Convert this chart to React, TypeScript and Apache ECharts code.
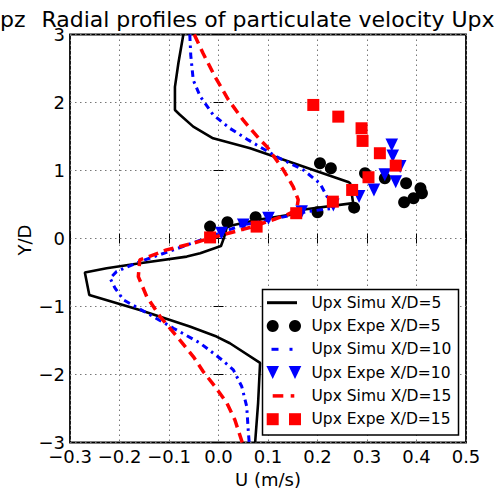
import React, { useEffect, useRef } from "react";
import * as echarts from "echarts";

// ---- data (U in m/s, Y/D) ----
const simuXD5: [number, number][] = [
  [-0.071, 3.0], [-0.081, 2.58], [-0.088, 2.23], [-0.088, 1.89], [-0.078, 1.82], [-0.051, 1.645],
  [-0.011, 1.474], [0.064, 1.327], [0.262, 0.832], [0.266, 0.813], [0.272, 0.52], [0.165, 0.42],
  [0.144, 0.347], [0.077, 0.273], [0.017, 0.175], [0.011, 0.01], [0.005, -0.11], [-0.037, -0.216],
  [-0.064, -0.266], [-0.159, -0.363], [-0.226, -0.437], [-0.27, -0.5], [-0.261, -0.83], [-0.159, -1.05],
  [-0.058, -1.295], [-0.004, -1.442], [0.023, -1.54], [0.084, -1.83], [0.08, -2.42], [0.074, -3.0],
];
const simuXD10: [number, number][] = [
  [-0.058, 3.0], [-0.056, 2.69], [-0.051, 2.33], [-0.037, 2.09], [-0.011, 1.82], [0.023, 1.62],
  [0.06, 1.45], [0.118, 1.2], [0.171, 1.01], [0.205, 0.81], [0.219, 0.62], [0.232, 0.445],
  [0.178, 0.395], [0.104, 0.273], [0.05, 0.2], [0.003, 0.082], [-0.091, -0.168], [-0.159, -0.34],
  [-0.206, -0.487], [-0.219, -0.584], [-0.209, -0.731], [-0.192, -0.903], [-0.138, -1.123],
  [-0.091, -1.319], [-0.037, -1.539], [0.007, -1.785], [0.03, -1.931], [0.047, -2.177],
  [0.057, -2.471], [0.06, -2.813], [0.062, -3.0],
];
const simuXD15: [number, number][] = [
  [-0.049, 3.0], [-0.031, 2.72], [-0.007, 2.38], [0.02, 2.04], [0.05, 1.74], [0.084, 1.45],
  [0.098, 1.35], [0.131, 1.01], [0.151, 0.76], [0.161, 0.57], [0.158, 0.42], [0.138, 0.347],
  [0.07, 0.175], [-0.017, 0.004], [-0.051, -0.069], [-0.105, -0.168], [-0.159, -0.315],
  [-0.162, -0.56], [-0.145, -0.854], [-0.118, -1.148], [-0.084, -1.442], [-0.051, -1.736],
  [-0.031, -1.956], [-0.007, -2.177], [0.017, -2.421], [0.033, -2.666], [0.048, -3.0],
];
const expeXD5: [number, number][] = [
  [0.205, 1.107], [0.227, 1.033], [0.296, 0.96], [0.336, 0.886], [0.379, 0.813], [0.408, 0.739],
  [0.411, 0.666], [0.394, 0.592], [0.375, 0.534], [0.274, 0.454], [0.2, 0.387], [0.075, 0.313],
  [0.018, 0.24], [-0.017, 0.175],
];
const expeXD10: [number, number][] = [
  [0.35, 1.376], [0.352, 1.214], [0.367, 1.057], [0.336, 0.936], [0.358, 0.836], [0.314, 0.714],
  [0.284, 0.616], [0.232, 0.494], [0.168, 0.395], [0.101, 0.298], [0.05, 0.2], [0.006, 0.078],
];
const expeXD15: [number, number][] = [
  [0.1915, 1.964], [0.242, 1.792], [0.289, 1.621], [0.291, 1.435], [0.326, 1.254], [0.358, 1.072],
  [0.303, 0.901], [0.27, 0.714], [0.231, 0.542], [0.157, 0.372], [0.077, 0.175], [-0.017, 0.016],
];

const legendLabels = [
  "Upx Simu X/D=5",
  "Upx Expe X/D=5",
  "Upx Simu X/D=10",
  "Upx Expe X/D=10",
  "Upx Simu X/D=15",
  "Upx Expe X/D=15",
];
const xRange = { min: -0.3, max: 0.5, step: 0.1 };
const yRange = { min: -3, max: 3, step: 1 };
const titleText = "Radial profiles of particulate velocity Upx";
const neighbourTitleTail = "pz";
const xAxisTitle = "U (m/s)";
const yAxisTitle = "Y/D";

const FONT = "DejaVu Sans";
const BLUE = "#0000ff";
const RED = "#ff0000";
const BLACK = "#000000";

const fmtX = (v: number) => (v < -1e-9 ? "\u2212" : "") + Math.abs(v).toFixed(1);
const fmtY = (v: number) => (v < 0 ? "\u2212" : "") + Math.abs(Math.round(v)).toString();

export default function App() {
  const ref = useRef<HTMLDivElement>(null);

  useEffect(() => {
    const chart = echarts.init(ref.current!, null, { renderer: "svg" });

    const tickStyle = { show: true, inside: true, length: 5, lineStyle: { color: BLACK, width: 1 } };
    const splitStyle = { show: true, lineStyle: { color: "#777", width: 1, type: [1.5, 3.5] as any } };

    // legend drawn as graphic elements
    const rowY = (i: number) => 302.7 + 23.3 * i;
    const mA = 272.7;
    const mB = 295;
    const legend: any[] = [
      {
        type: "rect",
        shape: { x: 262.5, y: 289.5, width: 196, height: 145.5 },
        style: { fill: "#fff", stroke: BLACK, lineWidth: 1.5 },
        z: 100,
      },
      // row 0: black solid
      { type: "line", shape: { x1: 267, y1: rowY(0), x2: 297, y2: rowY(0) }, style: { stroke: BLACK, lineWidth: 3 }, z: 101 },
      // row 1: circles
      { type: "circle", shape: { cx: mA, cy: rowY(1), r: 6 }, style: { fill: BLACK }, z: 101 },
      { type: "circle", shape: { cx: mB, cy: rowY(1), r: 6 }, style: { fill: BLACK }, z: 101 },
      // row 2: blue dash-dot
      { type: "line", shape: { x1: 271.5, y1: rowY(2), x2: 278.5, y2: rowY(2) }, style: { stroke: BLUE, lineWidth: 3 }, z: 101 },
      { type: "line", shape: { x1: 289.5, y1: rowY(2), x2: 292.5, y2: rowY(2) }, style: { stroke: BLUE, lineWidth: 3 }, z: 101 },
      // row 3: triangles
      ...[mA, mB].map((cx) => ({
        type: "polygon",
        shape: { points: [[cx - 6.3, rowY(3) - 6.5], [cx + 6.3, rowY(3) - 6.5], [cx, rowY(3) + 6.5]] },
        style: { fill: BLUE },
        z: 101,
      })),
      // row 4: red dashed
      { type: "line", shape: { x1: 272.7, y1: rowY(4), x2: 283.3, y2: rowY(4) }, style: { stroke: RED, lineWidth: 3.5 }, z: 101 },
      { type: "line", shape: { x1: 290.7, y1: rowY(4), x2: 294.3, y2: rowY(4) }, style: { stroke: RED, lineWidth: 3.5 }, z: 101 },
      // row 5: squares
      ...[mA, mB].map((cx) => ({
        type: "rect",
        shape: { x: cx - 6, y: rowY(5) - 6, width: 12, height: 12 },
        style: { fill: RED },
        z: 101,
      })),
      ...legendLabels.map((t, i) => ({
        type: "text",
        x: 311.5,
        y: rowY(i),
        style: { text: t, fill: BLACK, font: `15.5px "${FONT}"`, align: "left", verticalAlign: "middle" },
        z: 101,
      })),
    ];

    const option: any = {
      animation: false,
      backgroundColor: "#ffffff",
      grid: {
        left: 70,
        right: 38,
        top: 34.5,
        bottom: 48.5,
        show: true,
        borderColor: BLACK,
        borderWidth: 1.8,
        backgroundColor: "transparent",
      },
      xAxis: [
        {
          type: "value",
          min: xRange.min,
          max: xRange.max,
          interval: xRange.step,
          position: "bottom",
          axisLine: { show: false },
          axisTick: tickStyle,
          axisLabel: { formatter: fmtX, fontSize: 18, fontFamily: FONT, color: BLACK, margin: 5 },
          splitLine: splitStyle,
        },
        {
          type: "value",
          min: xRange.min,
          max: xRange.max,
          interval: xRange.step,
          position: "top",
          axisLine: { show: false },
          axisTick: tickStyle,
          axisLabel: { show: false },
          splitLine: { show: false },
        },
      ],
      yAxis: [
        {
          type: "value",
          min: yRange.min,
          max: yRange.max,
          interval: yRange.step,
          position: "left",
          axisLine: { show: false },
          axisTick: tickStyle,
          axisLabel: { formatter: fmtY, fontSize: 18, fontFamily: FONT, color: BLACK, margin: 5 },
          splitLine: splitStyle,
        },
        {
          type: "value",
          min: yRange.min,
          max: yRange.max,
          interval: yRange.step,
          position: "right",
          axisLine: { show: false },
          axisTick: tickStyle,
          axisLabel: { show: false },
          splitLine: { show: false },
        },
      ],
      series: [
        {
          name: legendLabels[0],
          type: "line",
          data: simuXD5,
          symbol: "none",
          lineStyle: { color: BLACK, width: 2.6 },
          itemStyle: { color: BLACK },
          z: 2,
        },
        {
          name: legendLabels[1],
          type: "scatter",
          data: expeXD5,
          symbol: "circle",
          symbolSize: 12,
          itemStyle: { color: BLACK, opacity: 1 },
          z: 3,
        },
        {
          name: legendLabels[2],
          type: "line",
          data: simuXD10,
          symbol: "none",
          lineStyle: { color: BLUE, width: 3, type: [6.5, 4.5, 2.5, 4.5] },
          itemStyle: { color: BLUE },
          z: 4,
        },
        {
          name: legendLabels[3],
          type: "scatter",
          data: expeXD10,
          symbol: "triangle",
          symbolRotate: 180,
          symbolSize: [12.6, 13],
          itemStyle: { color: BLUE, opacity: 1 },
          z: 5,
        },
        {
          name: legendLabels[4],
          type: "line",
          data: simuXD15,
          symbol: "none",
          lineStyle: { color: RED, width: 3.5, type: [10, 6] },
          itemStyle: { color: RED },
          z: 6,
        },
        {
          name: legendLabels[5],
          type: "scatter",
          data: expeXD15,
          symbol: "rect",
          symbolSize: 12,
          itemStyle: { color: RED, opacity: 1 },
          z: 7,
        },
      ],
      graphic: [
        {
          type: "text",
          x: 268,
          y: 19,
          style: { text: titleText, fill: BLACK, font: `22px "${FONT}"`, align: "center", verticalAlign: "middle" },
        },
        {
          type: "text",
          x: 0,
          y: 19,
          style: { text: neighbourTitleTail, fill: BLACK, font: `22px "${FONT}"`, align: "left", verticalAlign: "middle" },
        },
        {
          type: "text",
          x: 268,
          y: 479,
          style: { text: xAxisTitle, fill: BLACK, font: `18px "${FONT}"`, align: "center", verticalAlign: "middle" },
        },
        {
          type: "text",
          x: 24,
          y: 240,
          rotation: Math.PI / 2,
          style: { text: yAxisTitle, fill: BLACK, font: `18px "${FONT}"`, align: "center", verticalAlign: "middle" },
        },
        ...legend,
      ],
    };

    chart.setOption(option);
    return () => chart.dispose();
  }, []);

  return <div ref={ref} style={{ position: "fixed", left: 0, top: 0, width: 504, height: 491 }} />;
}
